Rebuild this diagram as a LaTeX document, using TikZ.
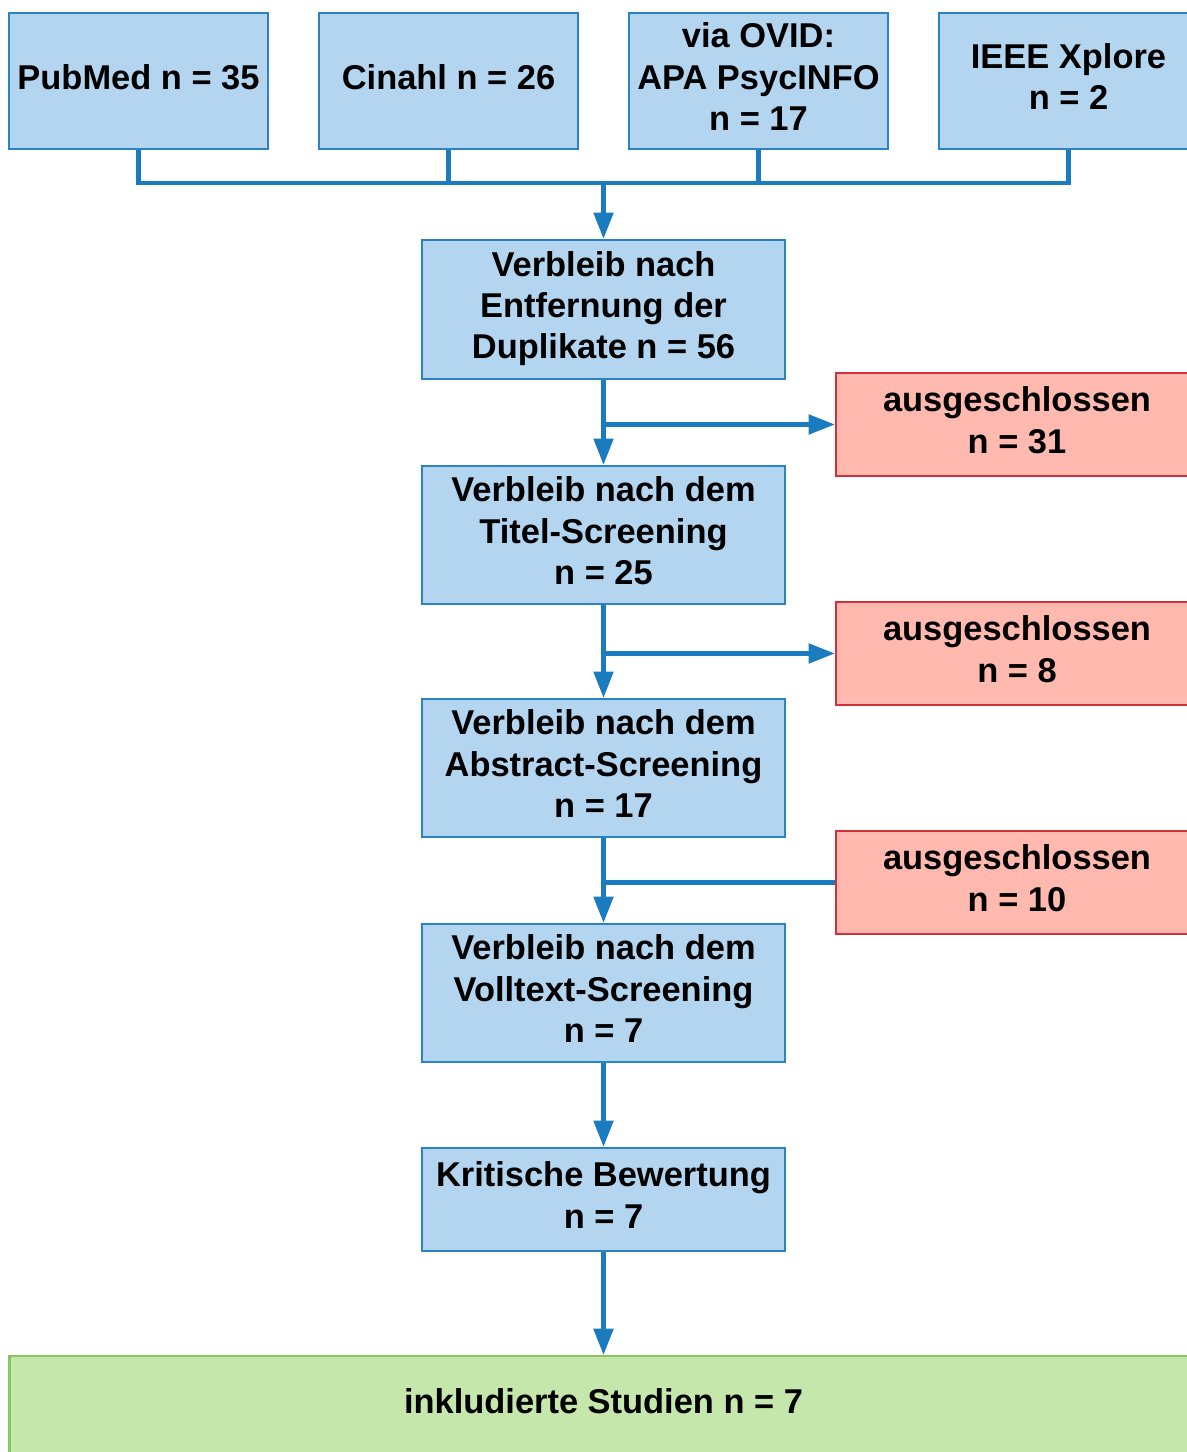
\documentclass[tikz,border=0pt]{standalone}
\usepackage{fontspec}
\setmainfont{Liberation Sans}
\usetikzlibrary{arrows.meta}

\definecolor{boxblue}{HTML}{B3D5EF}
\definecolor{edgeblue}{HTML}{2A84C4}
\definecolor{linkblue}{HTML}{1A7BBF}
\definecolor{boxred}{HTML}{FFB9AE}
\definecolor{edgered}{HTML}{D3303C}
\definecolor{boxgreen}{HTML}{C6E7AB}
\definecolor{edgegreen}{HTML}{8BC55F}

\tikzset{
  bluebox/.style={draw=edgeblue, fill=boxblue, line width=1.3pt},
  redbox/.style={draw=edgered, fill=boxred, line width=1.3pt, minimum width=7.24cm, minimum height=2.06cm},
  greenbox/.style={draw=edgegreen, fill=boxgreen, line width=1.3pt},
  link/.style={draw=linkblue, line width=2.4pt},
  flow/.style={link, -{Triangle[length=15pt, width=11pt]}}
}

\begin{document}
\begin{tikzpicture}[x=0.02cm, y=-0.02cm, every node/.style={font=\fontsize{19.6}{23.5}\selectfont\bfseries, align=center, inner sep=0pt, text depth=5pt}]

\useasboundingbox (0,0) rectangle (1186,1452);

%%sources
\node[bluebox, minimum width=5.18cm, minimum height=2.72cm] (pubmed) at (138.5,81) {PubMed n = 35};
\node[bluebox, minimum width=5.18cm, minimum height=2.72cm] (cinahl) at (448.5,81) {Cinahl n = 26};
\node[bluebox, minimum width=5.18cm, minimum height=2.72cm] (ovid) at (758.5,81) {via OVID:\\APA PsycINFO\\n = 17};
\node[bluebox, minimum width=5.18cm, minimum height=2.72cm] (ieee) at (1068.5,81) {IEEE Xplore\\n = 2};

%%main column
\node[bluebox, minimum width=7.26cm, minimum height=2.78cm] (dup) at (603.5,309.5) {Verbleib nach\\Entfernung der\\Duplikate n = 56};
\node[bluebox, minimum width=7.26cm, minimum height=2.76cm] (titel) at (603.5,535) {Verbleib nach dem\\Titel-Screening\\n = 25};
\node[bluebox, minimum width=7.26cm, minimum height=2.76cm] (abstract) at (603.5,768) {Verbleib nach dem\\Abstract-Screening\\n = 17};
\node[bluebox, minimum width=7.26cm, minimum height=2.76cm] (volltext) at (603.5,993) {Verbleib nach dem\\Volltext-Screening\\n = 7};
\node[bluebox, minimum width=7.26cm, minimum height=2.06cm] (kritisch) at (603.5,1199.5) {Kritische Bewertung\\n = 7};
\node[greenbox, anchor=north, minimum width=23.76cm, inner ysep=0.9cm, text height=0.72em, text depth=1em] (inkl) at (603.5,1355) {inkludierte Studien n = 7};

%%excluded
\node[redbox] (excl1) at (1017,424.5) {ausgeschlossen\\n = 31};
\node[redbox] (excl2) at (1017,653.5) {ausgeschlossen\\n = 8};
\node[redbox] (excl3) at (1017,882.5) {ausgeschlossen\\n = 10};

%%bus
\coordinate (bus) at (603.5,183);
\draw[link] (pubmed.south) |- (bus) -| (ieee.south);
\draw[link] (cinahl.south) -- (cinahl.south |- bus);
\draw[link] (ovid.south) -- (ovid.south |- bus);
\draw[flow] (bus) -- (dup.north);

%%steps
\draw[flow] (dup.south) -- (titel.north);
\draw[flow] (titel.south) -- (abstract.north);
\draw[flow] (abstract.south) -- (volltext.north);
\draw[flow] (volltext.south) -- (kritisch.north);
\draw[flow] (kritisch.south) -- (inkl.north);

%%branches
\draw[flow] (dup.south |- excl1.west) -- (excl1.west);
\draw[flow] (titel.south |- excl2.west) -- (excl2.west);
\draw[link] (excl3.west) -- (abstract.south |- excl3.west);

\end{tikzpicture}
\end{document}
